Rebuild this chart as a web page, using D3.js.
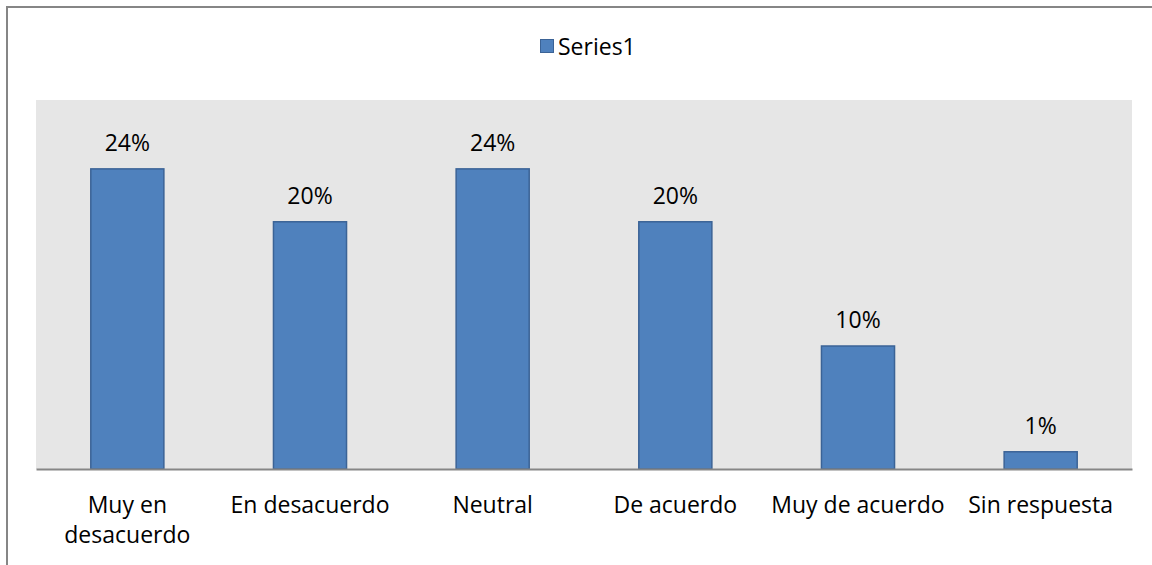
<!DOCTYPE html>
<html>
<head>
<meta charset="utf-8">
<script src="https://cdn.jsdelivr.net/npm/d3@7"></script>
<style>
  body { margin: 0; background: #fff; }
  svg { display: block; font-family: "Open Sans", sans-serif; }
</style>
</head>
<body>
<svg id="drawing_region"></svg>
<script>
// chart values
const categories = [["Muy en", "desacuerdo"], ["En desacuerdo"], ["Neutral"], ["De acuerdo"], ["Muy de acuerdo"], ["Sin respuesta"]]
const values = [0.244, 0.201, 0.244, 0.201, 0.100, 0.014]
const labels = ["24%", "20%", "24%", "20%", "10%", "1%"]
const seriesName = "Series1"

class BarChart {
    constructor(config) {
        this.config = config
        this.init()
    }

    init() {
        let self = this
        self.svg = d3.select(self.config.parent)
            .attr('width', self.config.width)
            .attr('height', self.config.height)

        const m = self.config.margin
        self.inner_width = self.config.width - m.left - m.right
        self.inner_height = self.config.height - m.top - m.bottom

        self.xscale = d3.scaleBand()
            .domain(d3.range(categories.length))
            .range([0, self.inner_width])
            .paddingInner(0.6)
            .paddingOuter(0.3)
        self.yscale = d3.scaleLinear()
            .domain([0, 0.3])
            .range([self.inner_height, 0])

        self.chart = self.svg.append('g')
            .attr('transform', `translate(${m.left},${m.top})`)
    }

    render() {
        let self = this
        const fs = 23

        // outer frame
        self.svg.append('rect')
            .attr('x', 7).attr('y', 7)
            .attr('width', self.config.width + 20)
            .attr('height', self.config.height + 20)
            .attr('fill', 'none')
            .attr('stroke', '#868686')
            .attr('stroke-width', 2)

        // legend
        const legend = self.svg.append('g').attr('transform', 'translate(540,39)')
        legend.append('rect')
            .attr('x', 0.5).attr('y', 0.5)
            .attr('width', 13).attr('height', 13)
            .attr('fill', '#4F81BD')
            .attr('stroke', '#3B6396')
            .attr('stroke-width', 1)
        legend.append('text')
            .attr('x', 18).attr('y', 7)
            .attr('dominant-baseline', 'central')
            .attr('font-size', fs)
            .attr('fill', '#000')
            .text(seriesName)

        // plot background
        self.chart.append('rect')
            .attr('width', self.inner_width)
            .attr('height', self.inner_height)
            .attr('fill', '#E6E6E6')

        // bars
        self.chart.selectAll('.bar').data(values).enter()
            .append('rect')
            .attr('class', 'bar')
            .attr('x', (d, i) => self.xscale(i))
            .attr('y', d => self.yscale(d))
            .attr('width', self.xscale.bandwidth())
            .attr('height', d => self.inner_height - self.yscale(d))
            .attr('fill', '#4F81BD')
            .attr('stroke', '#3B6396')
            .attr('stroke-width', 1.5)

        // value labels
        self.chart.selectAll('.val').data(values).enter()
            .append('text')
            .attr('class', 'val')
            .attr('x', (d, i) => self.xscale(i) + self.xscale.bandwidth() / 2)
            .attr('y', d => self.yscale(d) - 18)
            .attr('text-anchor', 'middle')
            .attr('font-size', fs)
            .attr('fill', '#000')
            .text((d, i) => labels[i])

        // x axis
        const xaxis = d3.axisBottom(self.xscale).tickSize(0).tickFormat('')
        const xg = self.chart.append('g')
            .attr('transform', `translate(0,${self.inner_height})`)
            .call(xaxis)
        xg.select('.domain').attr('stroke', '#868686').attr('stroke-width', 2)

        const cat = self.chart.selectAll('.cat').data(categories).enter()
            .append('text')
            .attr('class', 'cat')
            .attr('x', (d, i) => self.xscale(i) + self.xscale.bandwidth() / 2)
            .attr('y', self.inner_height + 44)
            .attr('text-anchor', 'middle')
            .attr('font-size', fs)
            .attr('fill', '#000')
        cat.selectAll('tspan').data(d => d).enter()
            .append('tspan')
            .attr('x', function() { return d3.select(this.parentNode).attr('x') })
            .attr('dy', (d, i) => i === 0 ? 0 : 30)
            .text(d => d)
    }
}

const config = {
    parent: '#drawing_region',
    width: 1152,
    height: 565,
    margin: {top: 100, right: 20, bottom: 96, left: 36}
}
const bar_chart = new BarChart(config)
bar_chart.render()
</script>
</body>
</html>
